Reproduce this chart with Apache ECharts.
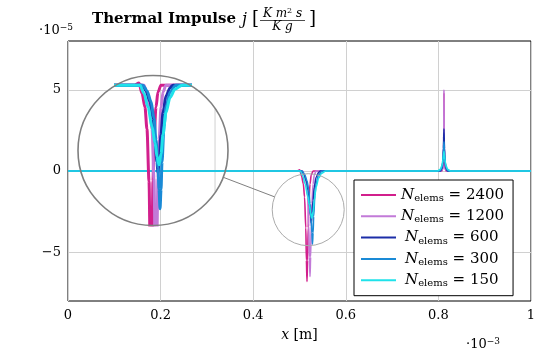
<!DOCTYPE html>
<html>
<head>
<meta charset="utf-8">
<script src="https://cdn.jsdelivr.net/npm/echarts@6/dist/echarts.min.js"></script>
<style>
  html, body { margin: 0; background: #fff; }
  #chart { width: 540px; height: 353px; }
</style>
</head>
<body>
<div id="chart"></div>
<script>
// x in 1e-3 m, j in 1e-5 K m^2 s / Kg
const names = ['N_elems = 2400', 'N_elems = 1200', 'N_elems = 600', 'N_elems = 300', 'N_elems = 150'];
const colors = ['#d21f8c', '#c27ad8', '#1c2ea8', '#1a8ad6', '#1fe2ea'];

const x2400 = [0, 0.495, 0.5005, 0.5044, 0.5083, 0.5109, 0.5136, 0.5149, 0.5162, 0.5175, 0.5188, 0.5201, 0.5227, 0.5253, 0.5293, 0.8075, 0.8105, 0.8115, 0.812, 0.8125, 0.8135, 0.8165, 1];
const j2400 = [0, 0, 0.08, -0.3, -0.8, -1.6, -3.5, -5.5, -6.8, -5.5, -3.5, -2.0, -0.8, -0.25, 0, 0, 0.3, 1.5, 4.8, 1.5, 0.3, 0, 0];

const x1200 = [0, 0.507, 0.5109, 0.5149, 0.5175, 0.5201, 0.5214, 0.5227, 0.524, 0.5253, 0.5267, 0.5293, 0.5319, 0.5358, 0.806, 0.809, 0.8105, 0.8115, 0.812, 0.8125, 0.8135, 0.815, 0.818, 1];
const j1200 = [0, 0, -0.3, -0.8, -1.6, -3.4, -5.3, -6.5, -5.3, -3.4, -2.0, -0.8, -0.25, 0, 0, 0.1, 0.5, 2.0, 5.0, 2.0, 0.5, 0.1, 0, 0];

const x600 = [0, 0.5044, 0.5096, 0.5149, 0.5188, 0.5214, 0.524, 0.5253, 0.5267, 0.5293, 0.5319, 0.5358, 0.5411, 0.545, 0.804, 0.808, 0.81, 0.811, 0.812, 0.813, 0.814, 0.816, 0.82, 1];
const j600 = [0, 0, -0.2, -0.6, -1.2, -2.0, -2.8, -3.2, -2.8, -1.8, -1.0, -0.4, -0.1, 0, 0, 0.15, 0.6, 1.4, 2.6, 1.4, 0.6, 0.15, 0, 0];

const x300 = [0, 0.5057, 0.5109, 0.5162, 0.5201, 0.5227, 0.5253, 0.5267, 0.528, 0.5293, 0.5306, 0.5332, 0.5358, 0.5411, 0.5489, 0.802, 0.807, 0.809, 0.8105, 0.812, 0.8135, 0.815, 0.817, 0.822, 1];
const j300 = [0, 0, -0.2, -0.6, -1.2, -2.0, -3.0, -3.8, -4.5, -3.8, -2.8, -1.5, -0.8, -0.25, 0, 0, 0.15, 0.5, 1.0, 1.8, 1.0, 0.5, 0.15, 0, 0];

const x150 = [0, 0.5018, 0.507, 0.5123, 0.5175, 0.5214, 0.524, 0.5267, 0.5293, 0.5319, 0.5358, 0.5411, 0.5476, 0.5568, 0.798, 0.804, 0.808, 0.81, 0.812, 0.814, 0.816, 0.82, 0.826, 1];
const j150 = [0, 0, -0.3, -0.8, -1.5, -2.1, -2.6, -2.9, -2.5, -1.8, -1.0, -0.45, -0.15, 0, 0, 0.1, 0.35, 0.7, 1.2, 0.7, 0.35, 0.1, 0, 0];

const xTicks = [0, 0.2, 0.4, 0.6, 0.8, 1];
const yTicks = [-5, 0, 5];

const xs = [x2400, x1200, x600, x300, x150];
const js = [j2400, j1200, j600, j300, j150];

// main plot box
const G = { left: 68, top: 41, width: 463, height: 260 };
// spy lens (magnifier)
const SPY = [0.5188, -2.38];
const MAG = [1.65, 1.69];
const LENS = { cx: 153, cy: 150.5, r: 75 };
const SPY_R = 36;
const INSET = { left: 116, top: 76, width: 74, height: 149 };

const pxPerX = G.width / 1, pxPerY = G.height / 16;
const ixHalf = INSET.width / 2 / (pxPerX * MAG[0]);
const iyHalf = INSET.height / 2 / (pxPerY * MAG[1]);

const serif = 'DejaVu Serif';
const chart = echarts.init(document.getElementById('chart'));

const pairs = (a, b) => a.map((v, i) => [v, b[i]]);

const mainSeries = names.map((n, i) => ({
  name: n, type: 'line', xAxisIndex: 0, yAxisIndex: 0,
  data: pairs(xs[i], js[i]), showSymbol: false, silent: true,
  smooth: 0.3, smoothMonotone: 'x',
  lineStyle: { color: colors[i], width: 1.6 }, itemStyle: { color: colors[i] }
}));
const insetSeries = names.map((n, i) => ({
  name: n, type: 'line', xAxisIndex: 1, yAxisIndex: 1,
  data: pairs(xs[i], js[i]), showSymbol: false, silent: true, clip: true,
  smooth: 0.3, smoothMonotone: 'x',
  lineStyle: { color: colors[i], width: 3 }, itemStyle: { color: colors[i] }
}));

chart.setOption({
  animation: false,
  backgroundColor: '#fff',
  grid: [
    { left: G.left, top: G.top, width: G.width, height: G.height, show: true, borderColor: '#000', borderWidth: 1 },
    { left: INSET.left, top: INSET.top, width: INSET.width, height: INSET.height, show: false }
  ],
  xAxis: [{
    type: 'value', gridIndex: 0, min: 0, max: 1, interval: 0.2,
    axisLine: { show: false }, axisTick: { show: false },
    splitLine: { show: true, lineStyle: { color: '#d0d0d0', width: 1 } },
    axisLabel: { color: '#000', fontFamily: serif, fontSize: 13, margin: 8 },
    name: '{i|x} [m]', nameLocation: 'middle', nameGap: 27,
    nameTextStyle: { color: '#000', fontFamily: serif, fontSize: 14,
      rich: { i: { fontFamily: serif, fontStyle: 'italic', fontSize: 14, color: '#000' } } }
  }, {
    type: 'value', gridIndex: 1, min: SPY[0] - ixHalf, max: SPY[0] + ixHalf, show: false, splitLine: { show: false }
  }],
  yAxis: [{
    type: 'value', gridIndex: 0, min: -8, max: 8,
    axisLine: { show: false },
    axisTick: { show: false, customValues: yTicks },
    splitLine: { show: true, lineStyle: { color: '#d0d0d0', width: 1 } },
    axisLabel: { customValues: yTicks, color: '#000', fontFamily: serif, fontSize: 13, margin: 7,
      formatter: v => (v < 0 ? '\u2212' + Math.abs(v) : String(v)) }
  }, {
    type: 'value', gridIndex: 1, min: SPY[1] - iyHalf, max: SPY[1] + iyHalf, show: false, splitLine: { show: false }
  }],
  legend: {
    data: names, orient: 'vertical', left: 354, top: 180,
    backgroundColor: '#fff', borderColor: '#000', borderWidth: 1,
    padding: [7, 9, 7, 7], itemGap: 4.8,
    icon: 'rect', itemWidth: 35, itemHeight: 2,
    formatter: name => {
      const n = name.split('= ')[1];
      return (n.length < 4 ? '{gap|}' : '') + '{n|N}{sub|elems}{eq| = ' + n + '}';
    },
    textStyle: {
      color: '#000', fontFamily: serif, fontSize: 15, lineHeight: 16,
      rich: {
        n: { fontFamily: serif, fontStyle: 'italic', fontSize: 15, color: '#000' },
        sub: { fontFamily: serif, fontSize: 10, color: '#000', padding: [7, 0, 0, 0] },
        eq: { fontFamily: serif, fontSize: 15, color: '#000' },
        gap: { width: 4 }
      }
    }
  },
  series: mainSeries.concat(insetSeries)
});

// lens, spy circle and connector, from the axes' own scales
const spyPx = chart.convertToPixel({ gridIndex: 0 }, SPY);
const dx = spyPx[0] - LENS.cx, dy = spyPx[1] - LENS.cy;
const len = Math.hypot(dx, dy);
const ux = dx / len, uy = dy / len;
const g6 = chart.convertToPixel({ xAxisIndex: 1 }, 0.6);
const h6 = Math.sqrt(Math.max(0, LENS.r * LENS.r - (g6 - LENS.cx) * (g6 - LENS.cx)));

const sup = { fontFamily: serif, fontSize: 9, color: '#000', padding: [0, 0, 7, 0] };
chart.setOption({
  graphic: [
    { type: 'line', z: 1, silent: true, shape: { x1: g6, y1: LENS.cy - h6, x2: g6, y2: LENS.cy + h6 }, style: { stroke: '#d0d0d0', lineWidth: 1 } },
    { type: 'circle', z: 100, silent: true, shape: { cx: LENS.cx, cy: LENS.cy, r: LENS.r }, style: { fill: 'none', stroke: '#7f7f7f', lineWidth: 1.6 } },
    { type: 'circle', z: 100, silent: true, shape: { cx: spyPx[0], cy: spyPx[1], r: SPY_R }, style: { fill: 'none', stroke: '#ababab', lineWidth: 1 } },
    { type: 'line', z: 100, silent: true,
      shape: { x1: LENS.cx + ux * LENS.r, y1: LENS.cy + uy * LENS.r, x2: spyPx[0] - ux * SPY_R, y2: spyPx[1] - uy * SPY_R },
      style: { stroke: '#7f7f7f', lineWidth: 1 } },
    // title
    { type: 'text', x: 92, y: 19, style: { text: 'Thermal Impulse', font: 'bold 15px "DejaVu Serif"', fill: '#000', verticalAlign: 'middle' } },
    { type: 'text', x: 242, y: 20, style: { text: 'j', font: 'italic 16px "DejaVu Serif"', fill: '#000', verticalAlign: 'middle' } },
    { type: 'text', x: 252, y: 19, style: { text: '[', font: '18px "DejaVu Serif"', fill: '#000', verticalAlign: 'middle' } },
    { type: 'text', x: 282.5, y: 14, style: { text: '{i|K m}{s|2}{i| s}', fill: '#000', align: 'center', verticalAlign: 'middle',
      rich: { i: { fontFamily: serif, fontStyle: 'italic', fontSize: 12, color: '#000' }, s: { fontFamily: serif, fontSize: 8, color: '#000', padding: [0, 0, 6, 0] } } } },
    { type: 'line', shape: { x1: 260, y1: 20.5, x2: 305, y2: 20.5 }, style: { stroke: '#000', lineWidth: 0.7 } },
    { type: 'text', x: 282.5, y: 26.5, style: { text: 'K g', font: 'italic 12px "DejaVu Serif"', fill: '#000', align: 'center', verticalAlign: 'middle' } },
    { type: 'text', x: 309, y: 19, style: { text: ']', font: '18px "DejaVu Serif"', fill: '#000', verticalAlign: 'middle' } },
    // axis multipliers
    { type: 'text', x: 39, y: 31, style: { text: '{a|\u00b710}{b|\u22125}', verticalAlign: 'middle',
      rich: { a: { fontFamily: serif, fontSize: 13, color: '#000' }, b: sup } } },
    { type: 'text', x: 466, y: 345, style: { text: '{a|\u00b710}{b|\u22123}', verticalAlign: 'middle',
      rich: { a: { fontFamily: serif, fontSize: 13, color: '#000' }, b: sup } } }
  ]
});
</script>
</body>
</html>
